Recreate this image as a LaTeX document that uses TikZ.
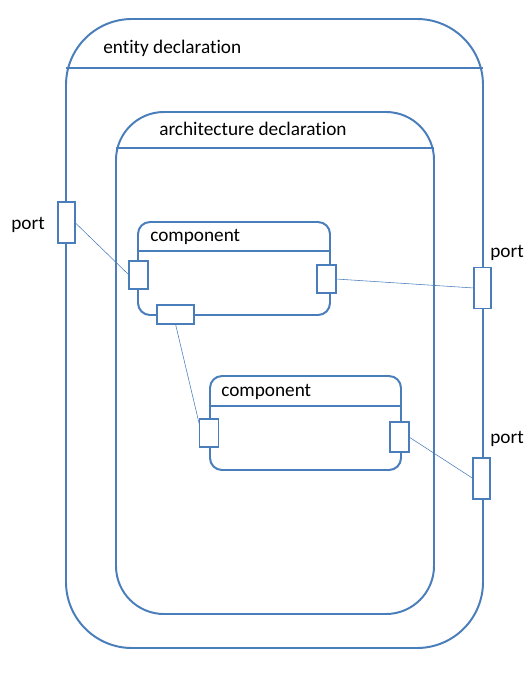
\documentclass[tikz,border=0pt]{standalone}
\usepackage{fontspec}
\setmainfont{Carlito}[RawFeature={-liga;-clig;-dlig;-calt}]
\usetikzlibrary{positioning}
\definecolor{linkblue}{RGB}{74,126,187}
\tikzset{
  container/.style={rectangle, draw=linkblue, line width=1.4pt, outer sep=0pt, inner sep=0pt},
  divider/.style={draw=linkblue, line width=1.4pt},
  port/.style={rectangle, draw=linkblue, fill=white, line width=1.4pt, outer sep=0pt, inner sep=0pt,
               minimum width=4.25mm, minimum height=10.25mm},
  cport/.style={port, minimum width=4.75mm, minimum height=7mm},
  wire/.style={draw=linkblue, line width=0.4pt},
  lbl/.style={inner sep=0pt, anchor=base west, font=\fontsize{13.7}{16}\selectfont},
}

\begin{document}
\begin{tikzpicture}[x=0.25mm, y=-0.25mm]
\useasboundingbox (0,0) rectangle (532,674);

%Containers
\node[container, rounded corners=16.5mm, minimum width=104.25mm, minimum height=157.25mm] (entity) at (274.5,333.5) {};
\node[container, rounded corners=12mm, minimum width=79.5mm, minimum height=125.5mm] (arch) at (275,363) {};
\node[container, rounded corners=3mm, minimum width=48mm, minimum height=23.25mm] (comp1) at (234,268.5) {};
\node[container, rounded corners=3mm, minimum width=47.75mm, minimum height=23.5mm] (comp2) at (305.5,423) {};

%Dividers
\draw[divider] ([yshift=-12.25mm]entity.north west) -- ([yshift=-12.25mm]entity.north east);
\draw[divider] ([yshift=-9mm]arch.north west) -- ([yshift=-9mm]arch.north east);
\draw[divider] ([yshift=-7.25mm]comp1.north west) -- ([yshift=-7.25mm]comp1.north east);
\draw[divider] ([yshift=-7.5mm]comp2.north west) -- ([yshift=-7.5mm]comp2.north east);

%Labels
\node[lbl] (entitylbl) at (103,53) {entity declaration};
\node[lbl] (archlbl) at (159,135) {architecture declaration};
\node[lbl] (comp1lbl) at (150,241) {component};
\node[lbl] (comp2lbl) at (221,396) {component};
\node[lbl] (lportlbl) at (11,229) {port};
\node[lbl] (rport1lbl) at (490,257) {port};
\node[lbl] (rport2lbl) at (490,443) {port};

%Ports
\node[port] (lport) at (66.5,222.5) {};
\node[port] (rport1) at (482.5,288) {};
\node[port] (rport2) at (481.5,478.5) {};
\node[cport] (c1l) at (138.5,275) {};
\node[cport] (c1r) at (326.5,279) {};
\node[cport, minimum width=9.25mm, minimum height=4.75mm] (c1b) at (175.5,314.5) {};
\node[cport] (c2l) at (209,433) {};
\node[cport, minimum height=7.5mm] (c2r) at (399.5,437) {};

%Lines
\draw[wire] (lport.east) -- (c1l.west);
\draw[wire] (c1r.east) -- (rport1.west);
\draw[wire] (c1b.south) -- ([yshift=2mm]c2l.west);
\draw[wire] (c2r.east) -- (rport2.west);
\end{tikzpicture}
\end{document}
